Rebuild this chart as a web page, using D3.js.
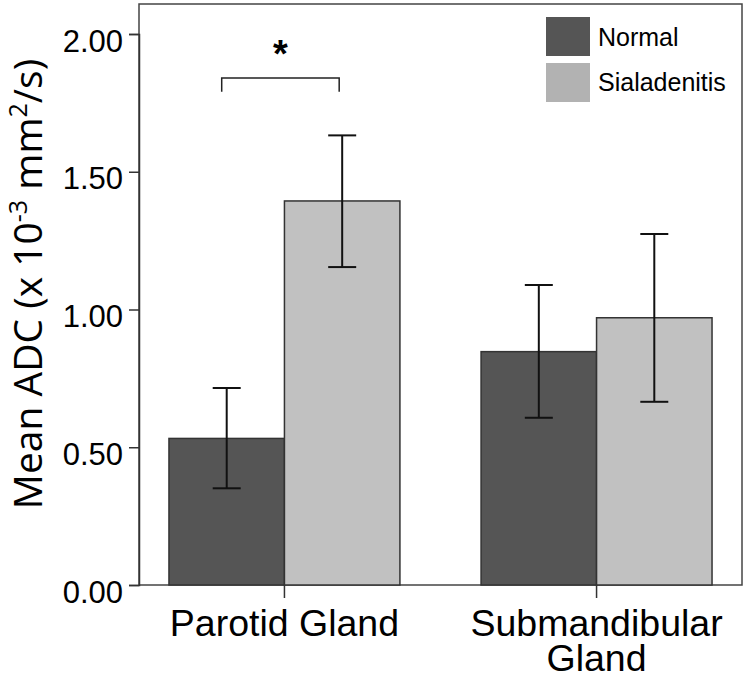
<!DOCTYPE html>
<html>
<head>
<meta charset="utf-8">
<script src="https://cdn.jsdelivr.net/npm/d3@7"></script>
<style>
  html, body { margin: 0; padding: 0; background: #fff; }
  svg { display: block; }
</style>
</head>
<body>
<svg id="chart" width="747" height="679"></svg>
<script>
// ---- data ----
const categories = ["Parotid Gland", "Submandibular Gland"];
const categoryLines = [["Parotid Gland"], ["Submandibular", "Gland"]];
const seriesNames = ["Normal", "Sialadenitis"];
const normalMeans = [0.532, 0.847];
const normalLower = [0.351, 0.607];
const normalUpper = [0.715, 1.089];
const sialMeans = [1.394, 0.970];
const sialLower = [1.154, 0.665];
const sialUpper = [1.632, 1.274];
const yTicks = [0, 0.5, 1.0, 1.5, 2.0];
const sigLevel = [1.84, 1.79]; // bracket top, bracket legs end (data units)

// ---- styling ----
const colors = { "Normal": "#555555", "Sialadenitis": "#c1c1c1" };
const legendColors = { "Normal": "#555555", "Sialadenitis": "#b2b2b2" };
const M = { left: 139, right: 742, top: 4, bottom: 585 };

const svg = d3.select("#chart");

const y = d3.scaleLinear().domain([0, 2]).range([M.bottom, 34]);
const x0 = d3.scaleBand().domain(categories).range([M.left, M.right])
  .paddingInner(0.26).paddingOuter(0.096);
const x1 = d3.scaleBand().domain(seriesNames).range([0, x0.bandwidth()]);

const rows = [];
categories.forEach((c, i) => {
  rows.push({cat: c, s: "Normal", v: normalMeans[i], lo: normalLower[i], hi: normalUpper[i]});
  rows.push({cat: c, s: "Sialadenitis", v: sialMeans[i], lo: sialLower[i], hi: sialUpper[i]});
});

// frame
svg.append("rect")
  .attr("x", M.left).attr("y", M.top)
  .attr("width", M.right - M.left).attr("height", M.bottom - M.top)
  .attr("fill", "none").attr("stroke", "#444").attr("stroke-width", 1.5);

// bars
svg.append("g").selectAll("rect").data(rows).join("rect")
  .attr("x", d => x0(d.cat) + x1(d.s))
  .attr("y", d => y(d.v))
  .attr("width", x1.bandwidth())
  .attr("height", d => y(0) - y(d.v))
  .attr("fill", d => colors[d.s])
  .attr("stroke", "#333").attr("stroke-width", 1.5);

// error bars
const capW = 28;
const eb = svg.append("g").attr("stroke", "#111").attr("stroke-width", 2);
rows.forEach(d => {
  const cx = x0(d.cat) + x1(d.s) + x1.bandwidth() / 2;
  eb.append("line").attr("x1", cx).attr("x2", cx).attr("y1", y(d.lo)).attr("y2", y(d.hi));
  eb.append("line").attr("x1", cx - capW/2).attr("x2", cx + capW/2).attr("y1", y(d.lo)).attr("y2", y(d.lo));
  eb.append("line").attr("x1", cx - capW/2).attr("x2", cx + capW/2).attr("y1", y(d.hi)).attr("y2", y(d.hi));
});

// y axis
const yAxis = d3.axisLeft(y).tickValues(yTicks).tickFormat(d3.format(".2f")).tickSize(10).tickPadding(6);
const gy = svg.append("g").attr("transform", `translate(${M.left},0)`).call(yAxis);
gy.select(".domain").attr("stroke", "#333").attr("stroke-width", 1.5);
gy.selectAll(".tick line").attr("stroke", "#333").attr("stroke-width", 1.5);
gy.selectAll(".tick text")
  .attr("font-family", "Liberation Sans, Arial, sans-serif")
  .attr("font-size", 31).attr("fill", "#000").attr("dy", "0.55em");

// x axis ticks at category centers
const gx = svg.append("g");
categories.forEach((c, i) => {
  const cx = x0(c) + x0.bandwidth() / 2;
  gx.append("line").attr("x1", cx).attr("x2", cx).attr("y1", M.bottom).attr("y2", M.bottom + 13)
    .attr("stroke", "#333").attr("stroke-width", 1.5);
  const t = gx.append("text").attr("text-anchor", "middle")
    .attr("font-family", "Liberation Sans, Arial, sans-serif")
    .attr("font-size", 37.5).attr("fill", "#000");
  categoryLines[i].forEach((line, j) => {
    t.append("tspan").attr("x", cx).attr("y", 636 + j * 35).text(line);
  });
});

// y axis title
const title = svg.append("text")
  .attr("transform", "translate(42,284) rotate(-90)")
  .attr("text-anchor", "middle")
  .attr("font-family", "Open Sans, Noto Sans, sans-serif")
  .attr("font-size", 39).attr("fill", "#000");
title.append("tspan").text("Mean ADC (x 10");
title.append("tspan").attr("dy", -15).attr("font-size", 25).text("-3");
title.append("tspan").attr("dy", 15).text(" mm");
title.append("tspan").attr("dy", -15).attr("font-size", 25).text("2");
title.append("tspan").attr("dy", 15).text("/s)");

// significance bracket
const cN = x0(categories[0]) + x1("Normal") + x1.bandwidth() / 2 - 5;
const cS = x0(categories[0]) + x1("Sialadenitis") + x1.bandwidth() / 2 - 3;
svg.append("path")
  .attr("d", `M${cN},${y(sigLevel[1])}V${y(sigLevel[0])}H${cS}V${y(sigLevel[1])}`)
  .attr("fill", "none").attr("stroke", "#222").attr("stroke-width", 1.5);
svg.append("text").attr("x", (cN + cS) / 2).attr("y", 67)
  .attr("text-anchor", "middle")
  .attr("font-family", "Liberation Sans, Arial, sans-serif")
  .attr("font-weight", "bold").attr("font-size", 38).text("*");

// legend
const lg = svg.append("g");
seriesNames.forEach((s, i) => {
  lg.append("rect").attr("x", 546).attr("y", 17 + i * 46).attr("width", 44).attr("height", 39)
    .attr("fill", legendColors[s]);
  lg.append("text").attr("x", 598).attr("y", 46 + i * 45)
    .attr("font-family", "Liberation Sans, Arial, sans-serif")
    .attr("font-size", 25).attr("fill", "#000").text(s);
});
</script>
</body>
</html>
